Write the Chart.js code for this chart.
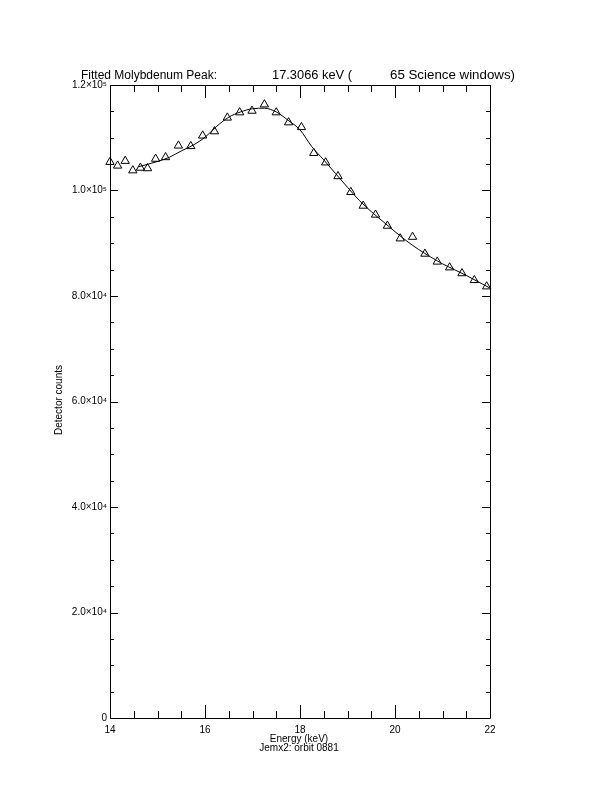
<!DOCTYPE html>
<html>
<head>
<meta charset="utf-8">
<title>Fitted Molybdenum Peak</title>
<script src="https://cdn.jsdelivr.net/npm/chart.js@4.4.1/dist/chart.umd.min.js"></script>
<style>
  html, body { margin: 0; padding: 0; background: #fff; }
  #wrap { width: 612px; height: 792px; }
</style>
</head>
<body>
<div id="wrap"><canvas id="peakChart" width="612" height="792"></canvas></div>
<script>
const energy = [14.00, 14.16, 14.32, 14.48, 14.64, 14.79, 14.96, 15.17, 15.44, 15.70,
  15.95, 16.20, 16.47, 16.73, 16.99, 17.25, 17.50, 17.76, 18.03, 18.29,
  18.54, 18.80, 19.07, 19.33, 19.59, 19.84, 20.11, 20.37, 20.63, 20.89,
  21.15, 21.41, 21.67, 21.93];
const counts = [105400, 104700, 105600, 103800, 104300, 104200, 106000, 106300, 108500, 108400,
  110400, 111200, 113800, 114800, 115100, 116300, 114800, 112900, 112000, 107100,
  105300, 102700, 99700, 97100, 95400, 93300, 90900, 91200, 88000, 86500,
  85400, 84300, 83000, 81800];

// Fitted curve
const fitEnergy = [14.6, 15.0, 15.25, 15.5, 15.75, 16.0, 16.25, 16.5, 16.75, 17.0,
  17.25, 17.5, 17.75, 18.0, 18.25, 18.5, 18.75, 19.0, 19.25, 19.5,
  19.75, 20.0, 20.25, 20.5, 20.75, 21.0, 21.25, 21.5, 21.75, 22.0];
const fitCounts = [104500, 105500, 106300, 107500, 108600, 110100, 112200, 113900, 114900, 115500,
  115600, 114900, 113300, 111500, 108300, 105800, 103200, 100600, 98100, 96000,
  94100, 92200, 90400, 88800, 87400, 86100, 85000, 83900, 82700, 81500];

// Axes
const xTickValues = [14, 16, 18, 20, 22];
const yTickValues = [0, 20000, 40000, 60000, 80000, 100000, 120000];
const yTickLabels = ['0', '2.0×10⁴', '4.0×10⁴', '6.0×10⁴', '8.0×10⁴', '1.0×10⁵', '1.2×10⁵'];

const FONT = '"Liberation Sans", "DejaVu Sans", sans-serif';

// draw text stretched to a given width (the IDL vector font runs wider)
function fitText(ctx, text, x, y, width) {
  const w = ctx.measureText(text).width;
  ctx.save();
  ctx.translate(x, y);
  ctx.scale(width / w, 1);
  ctx.fillText(text, 0, 0);
  ctx.restore();
}

// IDL style frame: box on all four sides, ticks pointing inward, plus the texts
const idlFrame = {
  id: 'idlFrame',
  afterDraw(chart) {
    const ctx = chart.ctx;
    const { left, right, top, bottom } = chart.chartArea;
    const xs = chart.scales.x, ys = chart.scales.y;
    ctx.save();
    ctx.strokeStyle = '#000';
    ctx.lineWidth = 1;
    ctx.beginPath();
    ctx.rect(Math.round(left) + 0.5, Math.round(top) + 0.5,
      Math.round(right - left), Math.round(bottom - top));
    // x ticks every 0.5 keV, major every 2
    for (let v = 14; v <= 22.001; v += 0.5) {
      const px = Math.round(xs.getPixelForValue(v)) + 0.5;
      const len = xTickValues.includes(v) ? 13 : 7;
      ctx.moveTo(px, bottom); ctx.lineTo(px, bottom - len);
      ctx.moveTo(px, top); ctx.lineTo(px, top + len);
    }
    // y ticks every 5000, major every 20000
    for (let v = 0; v <= 120000; v += 5000) {
      const py = Math.round(ys.getPixelForValue(v)) + 0.5;
      const len = yTickValues.includes(v) ? 8 : 4;
      ctx.moveTo(left, py); ctx.lineTo(left + len, py);
      ctx.moveTo(right, py); ctx.lineTo(right - len, py);
    }
    ctx.stroke();

    ctx.fillStyle = '#000';
    ctx.textBaseline = 'alphabetic';
    ctx.textAlign = 'left';
    ctx.font = '12px ' + FONT;
    fitText(ctx, 'Fitted Molybdenum Peak:', 81, 79, 136);
    fitText(ctx, '17.3066 keV (', 272, 79, 80);
    fitText(ctx, '65 Science windows)', 390, 79, 125);

    ctx.font = '10px ' + FONT;
    ctx.textAlign = 'center';
    ctx.fillText('Energy (keV)', 299, 742);
    ctx.fillText('Jemx2: orbit 0881', 299, 751);

    ctx.save();
    ctx.translate(62, 400);
    ctx.rotate(-Math.PI / 2);
    ctx.fillText('Detector counts', 0, 0);
    ctx.restore();
    ctx.restore();
  }
};

new Chart(document.getElementById('peakChart'), {
  type: 'scatter',
  data: {
    datasets: [
      {
        label: 'Fit',
        type: 'line',
        data: fitEnergy.map((e, i) => ({ x: e, y: fitCounts[i] })),
        borderColor: '#000',
        borderWidth: 1,
        pointRadius: 0,
        cubicInterpolationMode: 'monotone',
        fill: false
      },
      {
        label: 'Counts',
        data: energy.map((e, i) => ({ x: e, y: counts[i] })),
        pointStyle: 'triangle',
        pointRadius: 4.8,
        pointBackgroundColor: 'rgba(0,0,0,0)',
        pointBorderColor: '#000',
        pointBorderWidth: 1
      }
    ]
  },
  options: {
    responsive: false,
    animation: false,
    devicePixelRatio: 1,
    clip: false,
    layout: { padding: { left: 0, top: 85, right: 122, bottom: 0 } },
    plugins: { legend: { display: false }, tooltip: { enabled: false } },
    scales: {
      x: {
        type: 'linear',
        min: 14, max: 22,
        afterFit(scale) { scale.height = 74; },
        afterBuildTicks(scale) { scale.ticks = xTickValues.map(v => ({ value: v })); },
        grid: { display: false, drawTicks: false },
        border: { display: false },
        ticks: { color: '#000', font: { family: FONT, size: 10 }, padding: 6, maxRotation: 0 }
      },
      y: {
        type: 'linear',
        min: 0, max: 120000,
        afterFit(scale) { scale.width = 110; },
        afterBuildTicks(scale) { scale.ticks = yTickValues.map(v => ({ value: v })); },
        grid: { display: false, drawTicks: false },
        border: { display: false },
        ticks: {
          color: '#000', font: { family: FONT, size: 10 }, padding: 3,
          callback: (v) => yTickLabels[yTickValues.indexOf(v)]
        }
      }
    }
  },
  plugins: [idlFrame]
});
</script>
</body>
</html>
